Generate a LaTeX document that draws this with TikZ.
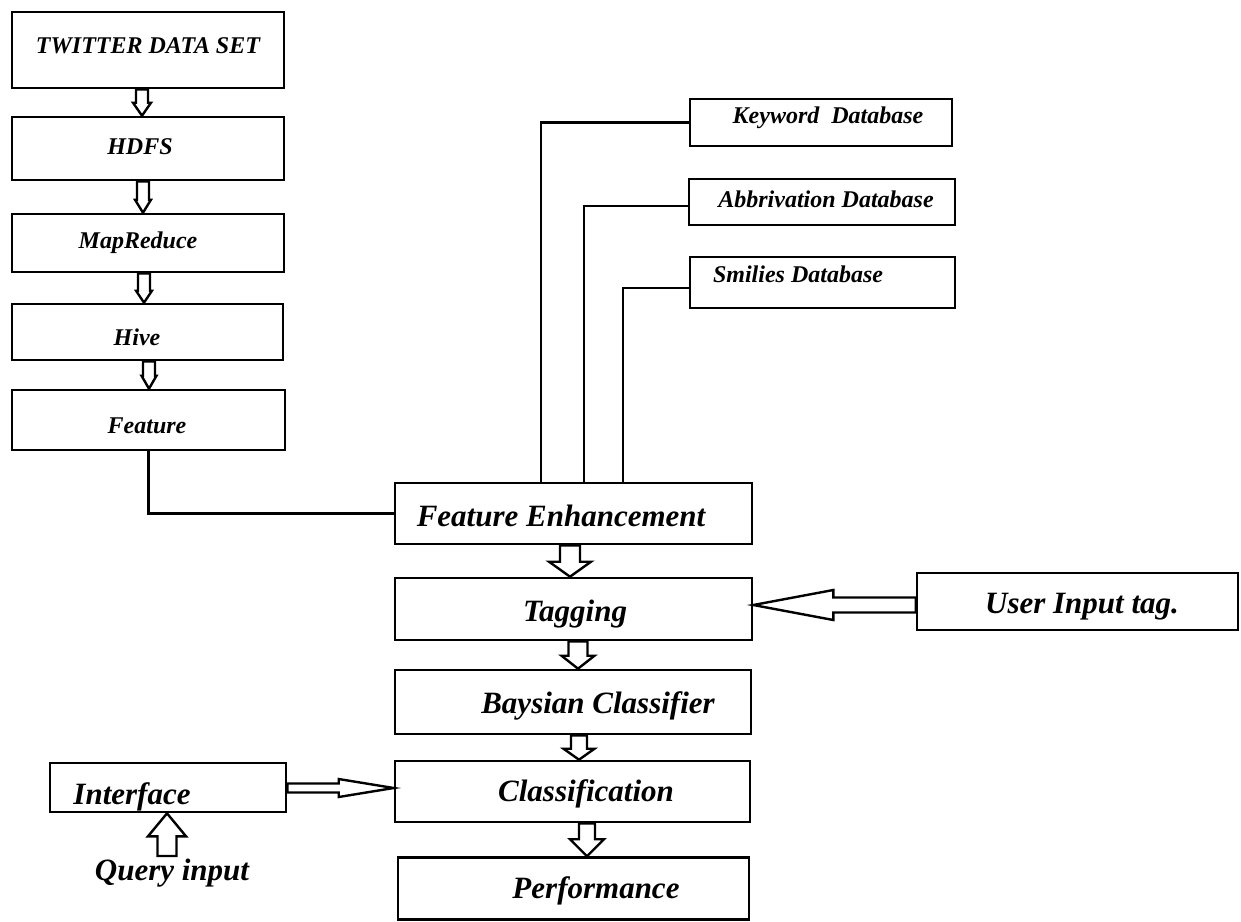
\documentclass[tikz,border=0pt]{standalone}
\usepackage{fontspec}
\setmainfont{Liberation Serif}
\usetikzlibrary{calc}
\tikzset{
  box/.style={draw, line width=2.6pt, rectangle, inner sep=0pt},
  conn/.style={draw, line width=2.4pt, line join=miter},
  barrow/.style={draw, line width=2.4pt, fill=white, line join=miter},
  tsmall/.style={font=\fontsize{24}{28}\selectfont\bfseries\itshape, inner sep=0pt},
  tdb/.style={font=\fontsize{24}{28}\selectfont\bfseries\itshape, inner sep=0pt},
  tbig/.style={font=\fontsize{31}{36}\selectfont\bfseries\itshape, inner sep=0pt},
}
% down block arrow: from node #1 to node #2, x centre #3, shaft half #4, head half #5, head length #6
\newcommand\bdown[6]{%
  \draw[barrow] let \p1=(#1.south), \p2=(#2.north) in
    ({#3-#4},\y1) -- ({#3-#4},\y2+#6pt) -- ({#3-#5},\y2+#6pt) -- (#3,\y2)
    -- ({#3+#5},\y2+#6pt) -- ({#3+#4},\y2+#6pt) -- ({#3+#4},\y1) -- cycle;}
% left block arrow: from node #1 (west side) to node #2 (east side), y centre #3
\newcommand\bleft[6]{%
  \draw[barrow] let \p1=(#1.west), \p2=(#2.east) in
    (\x1,{#3-#4}) -- (\x2+#6pt,{#3-#4}) -- (\x2+#6pt,{#3-#5}) -- (\x2,#3)
    -- (\x2+#6pt,{#3+#5}) -- (\x2+#6pt,{#3+#4}) -- (\x1,{#3+#4}) -- cycle;}
% right block arrow: from node #1 (east side) to node #2 (west side), y centre #3
\newcommand\bright[6]{%
  \draw[barrow] let \p1=(#1.east), \p2=(#2.west) in
    (\x1,{#3-#4}) -- (\x2-#6pt,{#3-#4}) -- (\x2-#6pt,{#3-#5}) -- (\x2,#3)
    -- (\x2-#6pt,{#3+#5}) -- (\x2-#6pt,{#3+#4}) -- (\x1,{#3+#4}) -- cycle;}
% up block arrow: from coordinate #1 to node #2 (south side), x centre #3
\newcommand\bup[6]{%
  \draw[barrow] let \p1=(#1), \p2=(#2.south) in
    ({#3-#4},\y1) -- ({#3-#4},\y2-#6pt) -- ({#3-#5},\y2-#6pt) -- (#3,\y2)
    -- ({#3+#5},\y2-#6pt) -- ({#3+#4},\y2-#6pt) -- ({#3+#4},\y1) -- cycle;}
\begin{document}
\begin{tikzpicture}[x=1pt,y=-1pt]
\useasboundingbox[fill=white] (0,0) rectangle (1241,921);

% left column
\node[box, minimum width=272pt, minimum height=76pt,
  label={[tsmall, xshift=0pt, yshift=4pt]center:TWITTER DATA SET}] (tw) at (148,50) {};
\node[box, minimum width=272pt, minimum height=63pt,
  label={[tsmall, xshift=-8pt, yshift=1.5pt]center:HDFS}] (hdfs) at (148,148.5) {};
\node[box, minimum width=272pt, minimum height=58pt,
  label={[tsmall, xshift=-10pt, yshift=0pt]center:MapReduce}] (mr) at (148,243) {};
\node[box, minimum width=271pt, minimum height=56pt,
  label={[tsmall, xshift=-10.5pt, yshift=-5pt]center:Hive}] (hive) at (147.5,332) {};
\node[box, minimum width=273pt, minimum height=60pt,
  label={[tsmall, xshift=-1.5pt, yshift=-6pt]center:Feature}] (feat) at (148.5,420) {};

% database boxes
\node[box, minimum width=262pt, minimum height=47pt,
  label={[tdb, xshift=7pt, yshift=5pt]center:Keyword\ \ Database}] (kw) at (821,122.5) {};
\node[box, minimum width=266pt, minimum height=46pt,
  label={[tdb, xshift=4pt, yshift=3pt]center:Abbrivation Database}] (ab) at (822,202) {};
\node[box, minimum width=265pt, minimum height=51pt,
  label={[tdb, xshift=-24.5pt, yshift=8.5pt]center:Smilies Database}] (sm) at (822.5,282.5) {};

% right column
\node[box, minimum width=357pt, minimum height=61pt,
  label={[tbig, xshift=-12.5pt, yshift=-2.5pt]center:Feature Enhancement}] (fe) at (573.5,513.5) {};
\node[box, minimum width=357pt, minimum height=62pt,
  label={[tbig, xshift=1.5pt, yshift=-5pt]center:Tagging}] (tag) at (573.5,609) {};
\node[box, minimum width=356pt, minimum height=64pt,
  label={[tbig, xshift=25pt, yshift=-4pt]center:Baysian Classifier}] (bay) at (573,702) {};
\node[box, minimum width=355pt, minimum height=61pt,
  label={[tbig, xshift=13.5pt, yshift=-2.5pt]center:Classification}] (cls) at (572.5,791.5) {};
\node[box, minimum width=351pt, minimum height=62pt,
  label={[tbig, xshift=22.5pt, yshift=-2.5pt]center:Performance}] (perf) at (573.5,888.5) {};

\node[box, minimum width=321pt, minimum height=57pt,
  label={[tbig, xshift=4.5pt, yshift=-5.5pt]center:User Input tag.}] (user) at (1077.5,601.5) {};
\node[box, minimum width=236pt, minimum height=49pt,
  label={[tbig, xshift=-36pt, yshift=-9.5pt]center:Interface}] (intf) at (168,787.5) {};
\node[tbig] (query) at (172,873) {Query input};
\coordinate (qbase) at (167,856);

% left column block arrows
\bdown{tw}{hdfs}{142}{6}{9}{13}
\bdown{hdfs}{mr}{143}{6}{8}{13}
\bdown{mr}{hive}{144}{6}{8}{12}
\bdown{hive}{feat}{149}{6}{7.5}{13}

% right column block arrows
\bdown{fe}{tag}{570}{10}{21}{15}
\bdown{tag}{bay}{578}{9.5}{16.5}{13}
\bdown{bay}{cls}{579}{8}{15.5}{11}
\bdown{cls}{perf}{587}{8}{17}{17}

% horizontal block arrows
\bleft{user}{tag}{605}{7.5}{15}{80}
\bright{intf}{cls}{788}{4.5}{9}{55}
\bup{qbase}{intf}{167}{9.5}{19}{23}

% thin connectors
\draw[conn] (feat.south) |- (fe.west);
\draw[conn] (kw.west) -| ([xshift=-32.5pt]fe.north);
\draw[conn] ([yshift=-4pt]ab.west) -| ([xshift=10.5pt]fe.north);
\draw[conn] ([yshift=-5.5pt]sm.west) -| ([xshift=49.5pt]fe.north);
\end{tikzpicture}
\end{document}
